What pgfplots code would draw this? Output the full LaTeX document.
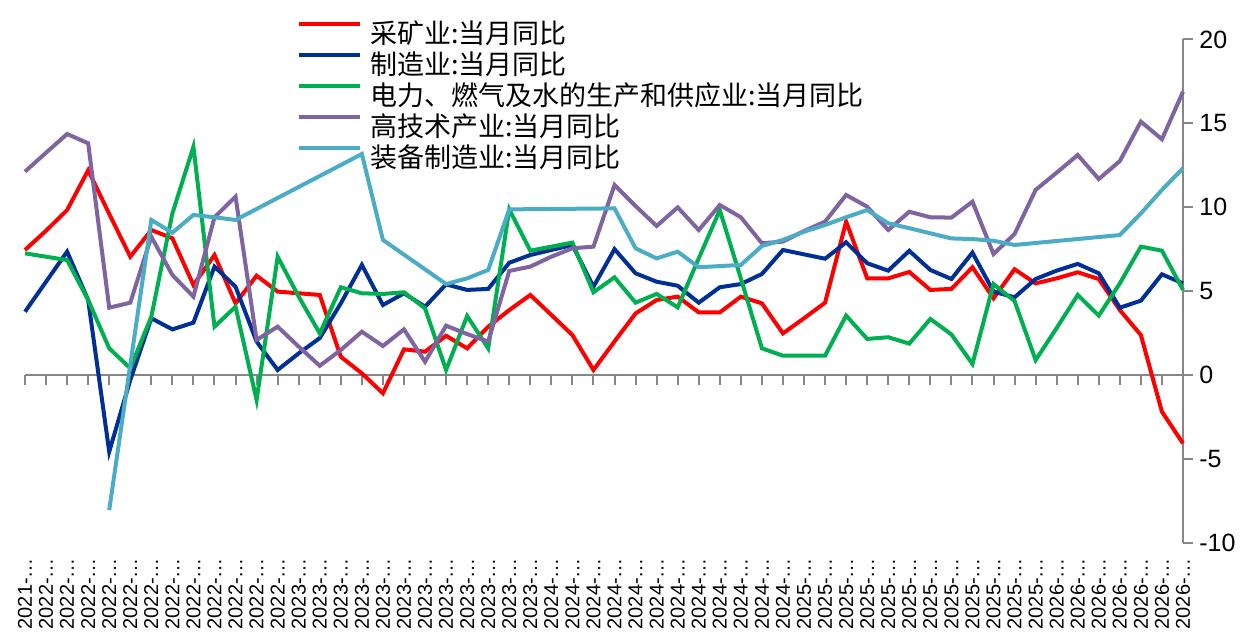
\documentclass[border=0pt]{standalone}
\usepackage{pgfplots}
\pgfplotsset{compat=1.18}
\usepackage{pgfplotstable}
\usepackage{fontspec}
\setmainfont{Liberation Sans}
\newfontfamily\cjk{Noto Sans CJK SC}
\definecolor{cMining}{RGB}{255,0,0}
\definecolor{cManu}{RGB}{0,48,150}
\definecolor{cPower}{RGB}{0,176,80}
\definecolor{cHigh}{RGB}{128,100,162}
\definecolor{cEquip}{RGB}{75,172,198}
\definecolor{cAxis}{RGB}{134,134,134}

\pgfplotstableread{
i red blue green purple
0 7.45 3.77 7.25 12.12
1 8.6 5.56 7.05 13.25
2 9.83 7.35 6.85 14.36
3 12.2 4.47 4.47 13.81
4 9.6 -4.57 1.59 4.01
5 7.05 -0.3 0.4 4.31
6 8.64 3.38 3.48 8.24
7 8.15 2.72 9.63 5.96
8 5.36 3.12 13.6 4.67
9 7.15 6.46 2.88 9.4
10 4.27 5.26 4.07 10.63
11 5.92 1.99 -1.49 2.09
12 4.97 0.3 7.05 2.88
13 4.87 1.29 4.67 1.69
14 4.77 2.2 2.48 0.55
15 1.09 4.27 5.23 1.49
16 0.1 6.56 4.87 2.58
17 -1.09 4.17 4.83 1.73
18 1.53 4.87 4.93 2.72
19 1.39 4.07 3.97 0.79
20 2.34 5.4 0.3 2.94
21 1.59 5.07 3.52 2.44
22 2.88 5.13 1.59 1.99
23 3.87 6.69 9.87 6.2
24 4.77 7.15 7.41 6.46
25 3.58 7.45 7.65 7.05
26 2.38 7.75 7.89 7.55
27 0.3 5.26 4.93 7.65
28 2.0 7.5 5.82 11.32
29 3.67 6.06 4.31 10.07
30 4.47 5.56 4.83 8.88
31 4.67 5.32 4.03 9.99
32 3.73 4.31 6.95 8.64
33 3.73 5.23 9.83 10.13
34 4.67 5.42 5.75 9.4
35 4.27 6.02 1.59 7.85
36 2.48 7.45 1.15 7.95
37 3.38 7.19 1.15 8.58
38 4.31 6.93 1.15 9.14
39 9.14 7.91 3.54 10.73
40 5.76 6.66 2.15 10.03
41 5.76 6.22 2.25 8.64
42 6.14 7.4 1.87 9.73
43 5.07 6.26 3.34 9.4
44 5.13 5.72 2.42 9.38
45 6.42 7.29 0.66 10.33
46 4.57 4.97 5.42 7.21
47 6.3 4.63 4.41 8.4
48 5.46 5.72 0.89 11.03
49 5.76 6.22 2.8 12.06
50 6.12 6.62 4.77 13.11
51 5.72 6.06 3.54 11.68
52 3.87 4.01 5.46 12.75
53 2.38 4.43 7.65 15.1
54 -2.19 6.0 7.41 14.05
55 -4.07 5.46 5.07 16.88
}\maintable

\pgfplotstableread{
i cyan
4 -8.05
6 9.24
7 8.48
8 9.54
9 9.4
10 9.24
16 13.17
17 8.05
20 5.42
21 5.76
22 6.26
23 9.87
28 9.93
29 7.55
30 6.95
31 7.35
32 6.42
34 6.56
35 7.69
36 8.05
37 8.54
38 8.94
39 9.4
40 9.83
41 9.04
42 8.75
44 8.14
45 8.1
46 8.0
47 7.75
52 8.34
53 9.63
54 11.03
55 12.32
}\equiptable

\begin{document}
\begin{tikzpicture}
% axis carrying the category labels along the bottom
\begin{axis}[
  at={(0,0)}, anchor=south west,
  scale only axis, width=579pt, height=251.7pt,
  xmin=0, xmax=55, ymin=-10, ymax=20,
  axis x line=bottom, axis y line=none,
  x axis line style={draw=none},
  xtick={0,...,55},
  major tick length=0pt,
  xticklabels={2021-…,
    2022-…,2022-…,2022-…,2022-…,2022-…,2022-…,2022-…,2022-…,2022-…,2022-…,2022-…,2022-…,
    2023-…,2023-…,2023-…,2023-…,2023-…,2023-…,2023-…,2023-…,2023-…,2023-…,2023-…,2023-…,
    2024-…,2024-…,2024-…,2024-…,2024-…,2024-…,2024-…,2024-…,2024-…,2024-…,2024-…,2024-…,
    2025-…,2025-…,2025-…,2025-…,2025-…,2025-…,2025-…,2025-…,2025-…,2025-…,2025-…,2025-…,
    2026-…,2026-…,2026-…,2026-…,2026-…,2026-…,2026-…},
  xticklabel style={yshift=-7.5pt, rotate=90, anchor=east, inner sep=0pt,
    font=\fontsize{10}{10}\selectfont},
]
\end{axis}
% data axis
\begin{axis}[
  at={(0,0)}, anchor=south west,
  scale only axis, width=579pt, height=251.7pt,
  xmin=0, xmax=55, ymin=-10, ymax=20,
  axis x line=middle, axis y line=right,
  axis line style={-, draw=cAxis, line width=1pt},
  every inner x axis line/.append style={-},
  every outer y axis line/.append style={-},
  xtick={0,...,55}, xticklabels={},
  ytick={-10,-5,0,5,10,15,20},
  yticklabels={-10,-5,0,5,10,15,20},
  xtick align=outside, ytick align=outside,
  x tick style={draw=cAxis, line width=1pt},
  y tick style={draw=cAxis, line width=1pt},
  major tick length=5pt,
  yticklabel style={anchor=west, inner sep=3pt, font=\fontsize{12.5}{14}\selectfont},
  legend style={at={(rel axis cs:0.2349,1.0385)}, anchor=north west,
    draw=none, fill=none, inner sep=0pt, row sep=2.5pt, column sep=4pt,
    font=\cjk\fontsize{13.5}{15}\selectfont,
    nodes={inner sep=0pt, text height=11.5pt, text depth=1.5pt}},
  legend cell align=left,
  legend image code/.code={\draw[#1] (0pt,4.5pt) -- (30.5pt,4.5pt);},
  clip=false,
]
\addplot[cMining, line width=2pt] table[x=i, y=red] {\maintable};
\addlegendentry{采矿业:当月同比}
\addplot[cManu, line width=2pt] table[x=i, y=blue] {\maintable};
\addlegendentry{制造业:当月同比}
\addplot[cPower, line width=2pt] table[x=i, y=green] {\maintable};
\addlegendentry{电力、燃气及水的生产和供应业:当月同比}
\addplot[cHigh, line width=2pt] table[x=i, y=purple] {\maintable};
\addlegendentry{高技术产业:当月同比}
\addplot[cEquip, line width=2pt] table[x=i, y=cyan] {\equiptable};
\addlegendentry{装备制造业:当月同比}
\end{axis}
\pgfresetboundingbox
\useasboundingbox (-12.5pt,-47.6pt) rectangle (615pt,271.4pt);
\end{tikzpicture}
\end{document}
